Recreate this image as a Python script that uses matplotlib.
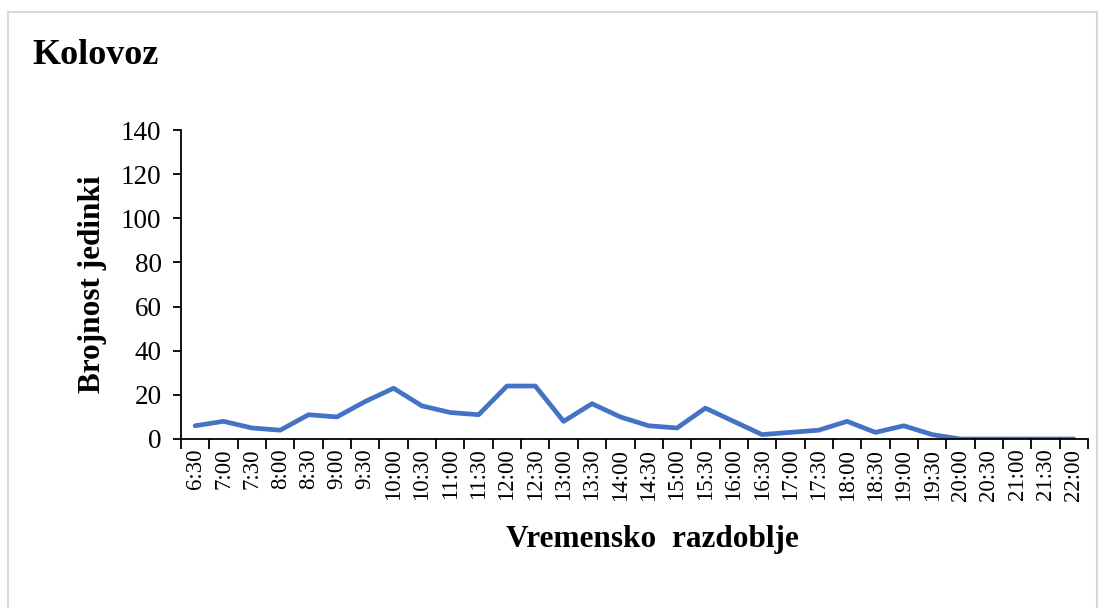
import matplotlib
matplotlib.use("Agg")
import matplotlib.pyplot as plt
from matplotlib.lines import Line2D

categories = ["6:30", "7:00", "7:30", "8:00", "8:30", "9:00", "9:30", "10:00", "10:30",
              "11:00", "11:30", "12:00", "12:30", "13:00", "13:30", "14:00", "14:30",
              "15:00", "15:30", "16:00", "16:30", "17:00", "17:30", "18:00", "18:30",
              "19:00", "19:30", "20:00", "20:30", "21:00", "21:30", "22:00"]
values = [6, 8, 5, 4, 11, 10, 17, 23, 15, 12, 11, 24, 24, 8, 16, 10, 6,
          5, 14, 8, 2, 3, 4, 8, 3, 6, 2, 0, 0, 0, 0, 0]
yticks = [0, 20, 40, 60, 80, 100, 120, 140]

plt.rcParams['font.family'] = ['Liberation Serif', 'DejaVu Serif']

W, H = 1105, 608
fig = plt.figure(figsize=(W / 100, H / 100), dpi=100)
ax = fig.add_axes([181 / W, 1 - 439 / H, (1088 - 181) / W, (439 - 130) / H])

n = len(categories)
x = list(range(n))
ax.plot(x, values, color="#4472C4", linewidth=3.4, solid_capstyle="round", solid_joinstyle="round")

ax.set_xlim(-0.5, n - 0.5)
ax.set_ylim(0, 140)
ax.set_yticks(yticks)
ax.set_yticklabels([str(v) for v in yticks], fontsize=19.5)
ax.tick_params(axis='y', direction='out', length=6, width=1.3, pad=8)

ax.set_xticks(x)
ax.set_xticklabels(categories, rotation=90, fontsize=16.5)
ax.tick_params(axis='x', which='major', length=0, pad=7)
ax.set_xticks([i - 0.5 for i in range(n + 1)], minor=True)
ax.tick_params(axis='x', which='minor', direction='out', length=7, width=1.3)

for s in ["top", "right"]:
    ax.spines[s].set_visible(False)
for s in ["left", "bottom"]:
    ax.spines[s].set_linewidth(1.3)

ax.set_ylabel("Brojnost jedinki", fontsize=22.5, fontweight="bold", labelpad=10)
ax.set_xlabel("Vremensko  razdoblje", fontsize=22.5, fontweight="bold")
ax.xaxis.set_label_coords((652 - 181) / (1088 - 181), -(540 - 439) / (439 - 130))
ax.xaxis.label.set_va("center")

fig.text(32 / W, 1 - 55 / H, "Kolovoz", fontsize=26, fontweight="bold", va="center", ha="left")

# light grey frame
bc = "#D9D9D9"
fig.add_artist(Line2D([8 / W, 8 / W], [0, 1 - 12 / H], color=bc, lw=1.5, transform=fig.transFigure))
fig.add_artist(Line2D([8 / W, 1097 / W], [1 - 12 / H, 1 - 12 / H], color=bc, lw=1.5, transform=fig.transFigure))
fig.add_artist(Line2D([1097 / W, 1097 / W], [0, 1 - 12 / H], color=bc, lw=1.5, transform=fig.transFigure))

fig.savefig("out.png", dpi=100)
